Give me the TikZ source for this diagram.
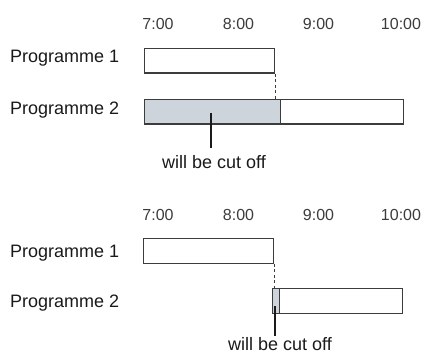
\documentclass[tikz,border=0pt]{standalone}
\usepackage{fontspec}
\setmainfont{Liberation Sans}
\usetikzlibrary{positioning}
\definecolor{tlInk}  {HTML}{1A1A1A}
\definecolor{tlEdge} {HTML}{3C3C3C}
\definecolor{tlCut}  {HTML}{CED4DC}

\tikzset{
  bar/.style={draw=tlEdge,line width=1.4pt,fill=white,inner sep=0pt,
              minimum height=24.5pt,anchor=north west},
  cutbar/.style={bar,fill=tlCut},
  prog/.style={anchor=base west,inner sep=0pt,text=tlInk,
               font=\fontsize{18}{20}\selectfont},
  hour/.style={anchor=base,inner sep=0pt,text=tlInk!85,
               font=\fontsize{16}{18}\selectfont},
  note/.style={anchor=base,inner sep=0pt,text=tlInk,
               font=\fontsize{18}{20}\selectfont},
  pointer/.style={draw=tlInk,line width=1.8pt},
  cutmark/.style={draw=tlEdge,line width=0.9pt,dash pattern=on 3pt off 2.5pt}
}

\begin{document}
\begin{tikzpicture}[x=1pt,y=-1pt]
  \useasboundingbox (0,0) rectangle (422,355);

  % time scale, top and bottom
  \foreach \hr/\x [count=\i] in {7:00/158,8:00/238.5,9:00/318.5,10:00/401}{
    \node[hour] (ha\i) at (\x,30) {\hr};
    \node[hour] (hb\i) at (\x,220) {\hr};
  }

  % --- first case: programme 2 starts before programme 1 ends
  \node[prog] (la1) at (10,63) {Programme 1};
  \node[prog] (la2) at (10,115) {Programme 2};
  \node[bar,minimum width=130pt] (pa1) at (144,48) {};
  \node[cutbar,minimum width=136pt] (pa2cut) at (144,98.7) {};
  \node[bar,minimum width=123pt] (pa2) at (280,98.7) {};
  \draw[cutmark] (pa1.south east) -- (pa1.south east |- pa2cut.north);
  \coordinate (ka) at (211,113);
  \node[note] (na) at (214,168) {will be cut off};
  \draw[pointer] (ka) -- (ka |- 0,148);

  % --- second case: programme 2 starts just before programme 1 ends
  \node[prog] (lb1) at (10,257) {Programme 1};
  \node[prog] (lb2) at (10,307) {Programme 2};
  \node[bar,minimum width=130pt] (pb1) at (143,238) {};
  \node[cutbar,minimum width=7pt] (pb2cut) at (272,288) {};
  \node[bar,minimum width=123pt] (pb2) at (279,288) {};
  \draw[cutmark] (pb1.south east) -- (pb1.south east |- pb2cut.north);
  \coordinate (kb) at (275,306);
  \node[note] (nb) at (280,350) {will be cut off};
  \draw[pointer] (kb) -- (kb |- 0,336);
\end{tikzpicture}
\end{document}
